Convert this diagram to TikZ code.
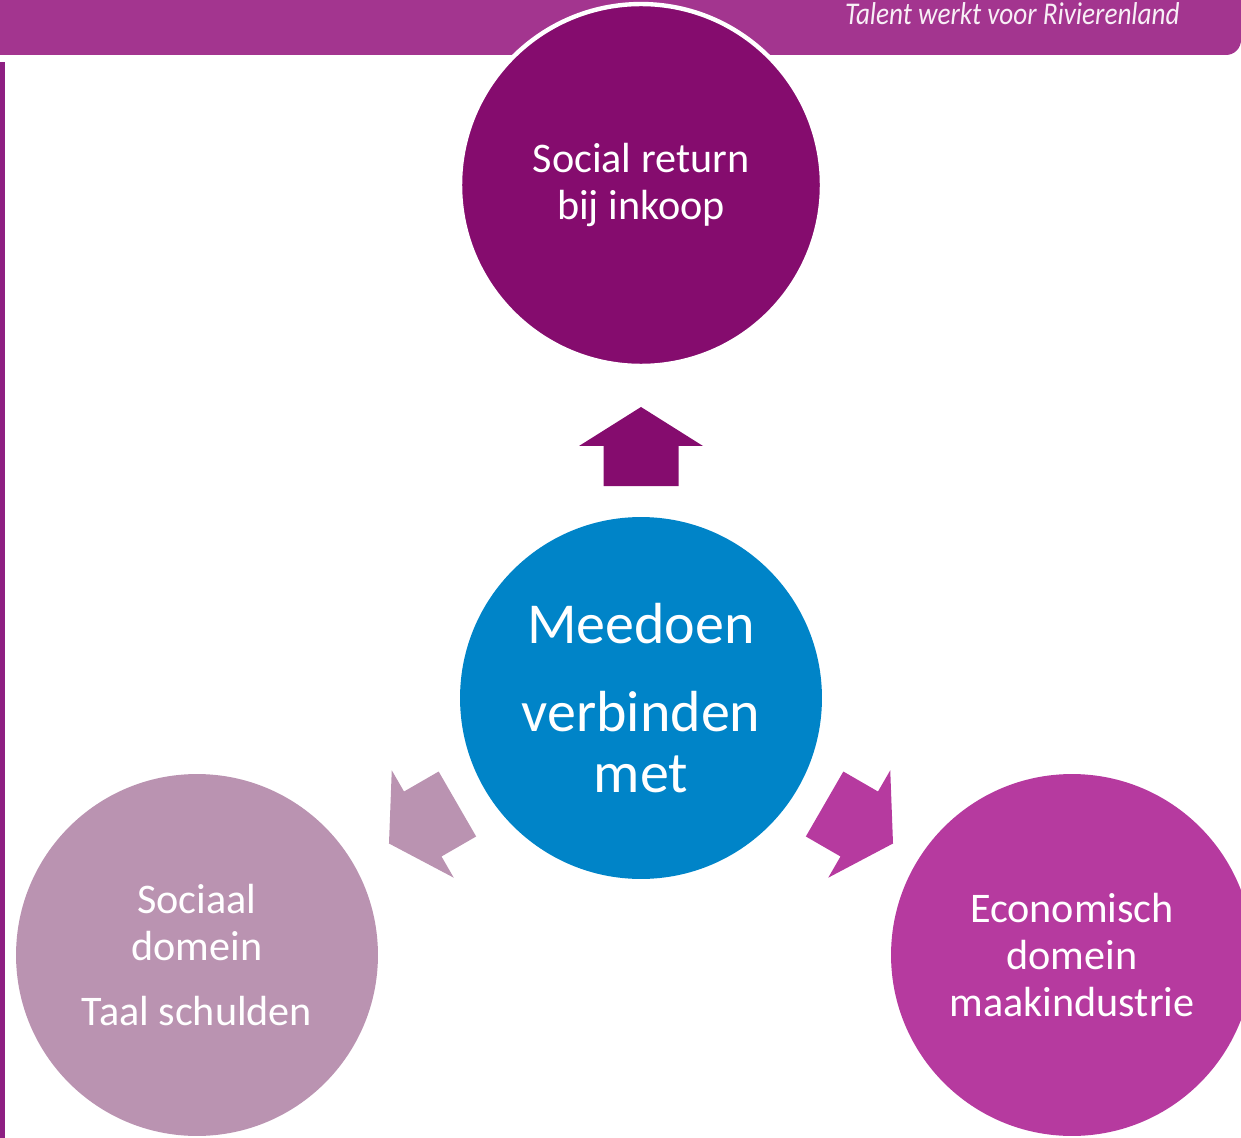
\documentclass[tikz,border=0pt]{standalone}
\usepackage{fontspec}
\setmainfont{Carlito}
\definecolor{bannerpurple}{HTML}{A3358F}
\definecolor{linepurple}{HTML}{8E1F82}
\definecolor{returnpurple}{HTML}{850C6E}
\definecolor{meedoenblue}{HTML}{0084C8}
\definecolor{sociaalmauve}{HTML}{BA93B1}
\definecolor{econmagenta}{HTML}{B63A9F}
\begin{document}
\begin{tikzpicture}[x=0.02cm, y=-0.02cm,
        bubble/.style={circle, minimum size=7.24cm, inner sep=0pt, text=white, align=center,
            font=\fontsize{24}{26.5}\selectfont},
        hub/.style={bubble, fill=meedoenblue, font=\fontsize{33}{34.6}\selectfont}]
            \clip (0,0) rectangle (1241,1138);
            % Banner
            \fill[bannerpurple] (-20,-10) -- (1241,-10) {[rounded corners=0.3cm] -- (1241,55) -- (-20,55)} -- cycle;
            \node[anchor=base east, inner sep=0pt, text=white!92!bannerpurple, font=\fontsize{18}{18}\itshape] (tag) at (1180,25)
                {\scalebox{0.86}[1]{Talent werkt voor Rivierenland}};
            \fill[linepurple] (0,62) rectangle (5,1138);
            % Circles
            \node[bubble, fill=returnpurple, draw=white, line width=2.5pt] (ret) at (641,185) {Social return\\bij inkoop};
            \node[hub] (mid) at (641,698) {Meedoen\\[16pt]verbinden\\met};
            \node[bubble, fill=sociaalmauve, font=\fontsize{24}{27}\selectfont] (soc) at (197,955)
                {Sociaal\\domein\\[10pt]Taal schulden};
            \node[bubble, fill=econmagenta] (eco) at (1072,955) {Economisch\\domein\\maakindustrie};
            % Arrows
            \foreach \ang/\col in {90/returnpurple, 210/sociaalmauve, 330/econmagenta}
                \fill[\col, shift={(mid.center)}, rotate=\ang]
                    (212,-37.5) -- (252,-37.5) -- (252,-62) -- (291,0) -- (252,62) -- (252,37.5) -- (212,37.5) -- cycle;
        \end{tikzpicture}
\end{document}
